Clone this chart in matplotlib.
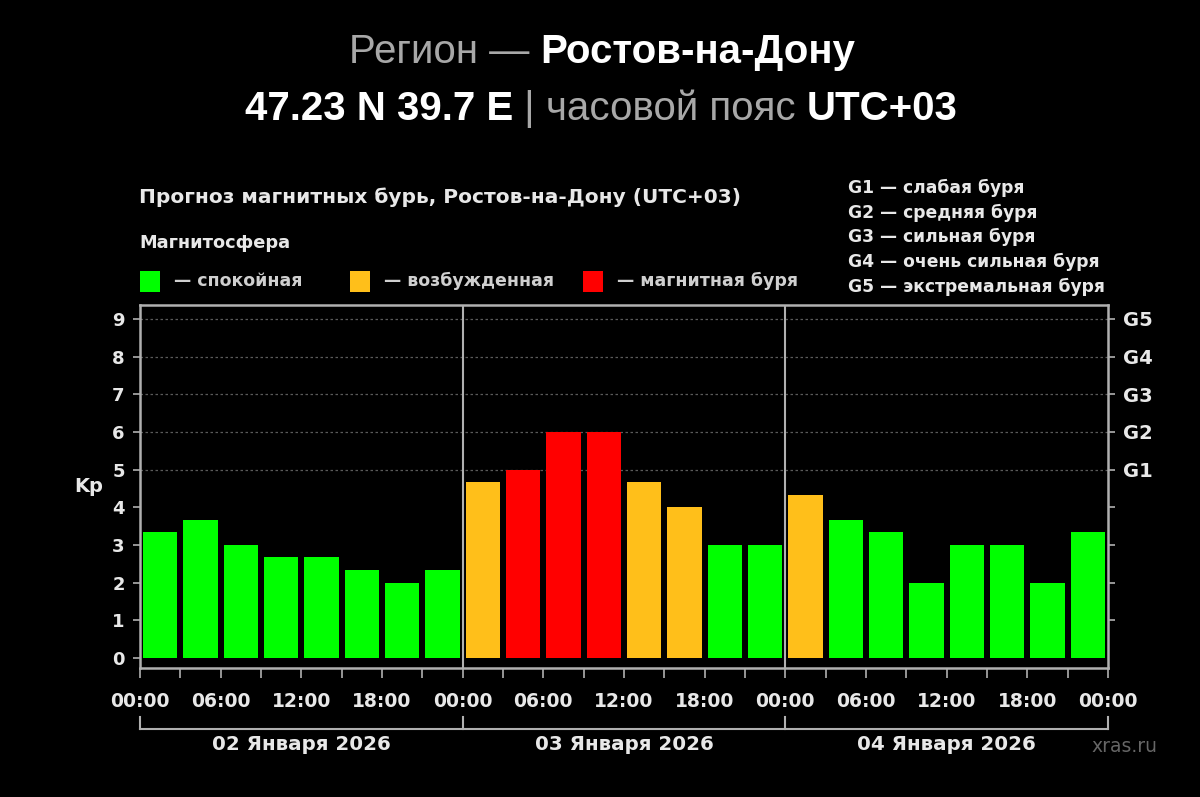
import matplotlib
matplotlib.use("Agg")
import matplotlib.pyplot as plt
import matplotlib.transforms as mtransforms

plt.rcParams["font.family"] = ["DejaVu Sans"]

# ------------------------------------------------------------------
# Data (Kp forecast, 3-hour intervals)
# ------------------------------------------------------------------
kp_day1 = [3.33, 3.67, 3.0, 2.67, 2.67, 2.33, 2.0, 2.33]
kp_day2 = [4.67, 5.0, 6.0, 6.0, 4.67, 4.0, 3.0, 3.0]
kp_day3 = [4.33, 3.67, 3.33, 2.0, 3.0, 3.0, 2.0, 3.33]
days = ["02 Января 2026", "03 Января 2026", "04 Января 2026"]
time_labels = ["00:00", "06:00", "12:00", "18:00"]
g_levels = [5, 6, 7, 8, 9]
g_names = ["G1", "G2", "G3", "G4", "G5"]
g_desc = ["слабая буря", "средняя буря", "сильная буря",
          "очень сильная буря", "экстремальная буря"]
legend_names = ["спокойная", "возбужденная", "магнитная буря"]

GREEN, ORANGE, RED = "#00ff00", "#ffbf1a", "#ff0000"
WHITE = "#e8e8e8"
GREY = "#a8a8a8"
FRAME = "#b0b0b0"
TITLE_FONT = ["Liberation Sans", "DejaVu Sans"]

kp = kp_day1 + kp_day2 + kp_day3
hours = [1.5 + 3 * i for i in range(len(kp))]


def bar_color(v):
    if v < 4:
        return GREEN
    if v < 5:
        return ORANGE
    return RED


W, H = 1200, 797
fig = plt.figure(figsize=(12, 7.97), dpi=100, facecolor="black")


def px(x, y):
    return x / W, 1 - y / H


def mixed_text(parts, xc, y, size):
    """Draw a line of (text, color, weight) pieces centred at pixel xc."""
    r = fig.canvas.get_renderer()
    objs = []
    for s, c, wgt in parts:
        t = fig.text(0, px(0, y)[1], s, color=c, fontsize=size,
                     fontweight=wgt, va="center", ha="left",
                     family=TITLE_FONT)
        objs.append(t)
    widths = [t.get_window_extent(r).width for t in objs]
    x = xc - sum(widths) / 2
    for t, w in zip(objs, widths):
        t.set_x(x / W)
        x += w


# ------------------------------------------------------------------
# Header
# ------------------------------------------------------------------
mixed_text([("Регион — ", GREY, "normal"),
            ("Ростов-на-Дону", "white", "bold")], 602, 52, 29)
mixed_text([("47.23 N 39.7 E", "white", "bold"),
            (" | ", GREY, "normal"),
            ("часовой пояс ", GREY, "normal"),
            ("UTC+03", "white", "bold")], 601, 109, 29)

fig.text(*px(139, 197), "Прогноз магнитных бурь, Ростов-на-Дону (UTC+03)",
         color=WHITE, fontsize=14.5, fontweight="bold", va="center")
fig.text(*px(139, 243), "Магнитосфера", color=WHITE, fontsize=12.8,
         fontweight="bold", va="center")

for x0, col, name in zip([140, 350, 583], [GREEN, ORANGE, RED], legend_names):
    fig.patches.append(plt.Rectangle(px(x0, 292), 20 / W, 21 / H,
                                     transform=fig.transFigure,
                                     facecolor=col, edgecolor="none"))
    fig.text(*px(x0 + 34, 281), "— " + name, color="#cfcfcf", fontsize=12.5,
             fontweight="bold", va="center")

for i, (g, d) in enumerate(zip(g_names, g_desc)):
    fig.text(*px(848, 188 + 24.7 * i), f"{g} — {d}", color=WHITE,
             fontsize=12.3, fontweight="bold", va="center")

# ------------------------------------------------------------------
# Chart
# ------------------------------------------------------------------
ax = fig.add_axes([140 / W, 1 - 668 / H, 968 / W, 363 / H])
ax.set_facecolor("black")

for lvl in g_levels:
    ax.axhline(lvl, color="#5a5a5a", ls=(0, (2, 2)), lw=0.9, zorder=0)

ax.bar(hours, kp, width=2.55, color=[bar_color(v) for v in kp],
       edgecolor="none", zorder=2)

for dx in [24, 48]:
    ax.axvline(dx, color=FRAME, lw=1.5, zorder=1)

ax.set_xlim(0, 72)
ax.set_ylim(-0.27, 9.37)

for s in ax.spines.values():
    s.set_color(FRAME)
    s.set_linewidth(1.8)

ax.set_yticks(range(10))
ax.set_yticklabels([str(i) for i in range(10)])
ax.tick_params(axis="y", colors=FRAME, labelcolor=WHITE, length=5,
               width=1.2, labelsize=13, pad=6)
for lab in ax.get_yticklabels():
    lab.set_fontweight("bold")

ax.set_xticks(range(0, 73, 6))
ax.set_xticklabels(time_labels * 3 + ["00:00"])
ax.set_xticks(range(3, 72, 6), minor=True)
ax.tick_params(axis="x", which="both", colors=FRAME, labelcolor=WHITE,
               length=7, width=1.2, labelsize=13.5, pad=10)
for lab in ax.get_xticklabels():
    lab.set_fontweight("bold")

ax.text(-51 / 968 * 72, 4.54, "Kp", color=WHITE,
        fontsize=14, fontweight="bold", ha="center", va="center")

ax2 = ax.twinx()
ax2.set_ylim(ax.get_ylim())
ax2.set_yticks(range(1, 10))
ax2.set_yticklabels([""] * 4 + g_names)
ax2.tick_params(axis="y", colors=FRAME, labelcolor=WHITE, length=5,
                width=1.2, labelsize=14, pad=6)
for lab in ax2.get_yticklabels():
    lab.set_fontweight("bold")
for s in ax2.spines.values():
    s.set_visible(False)

# day bracket under the time axis
tr = mtransforms.blended_transform_factory(ax.transData, ax.transAxes)
y_line = -(729 - 668) / 363
y_top = -(717 - 668) / 363
ax.plot([0, 72], [y_line, y_line], color=FRAME, lw=1.5, transform=tr,
        clip_on=False)
for dx in [0, 24, 48, 72]:
    ax.plot([dx, dx], [y_line, y_top], color=FRAME, lw=1.5, transform=tr,
            clip_on=False)
for i, d in enumerate(days):
    ax.text(12 + 24 * i, -(744 - 668) / 363, d, transform=tr, color=WHITE,
            fontsize=14.3, fontweight="bold", ha="center", va="center")

fig.text(*px(1124, 746), "xras.ru", color="#666666", fontsize=13.5,
         ha="center", va="center")

fig.savefig("out.png", dpi=100, facecolor="black")
